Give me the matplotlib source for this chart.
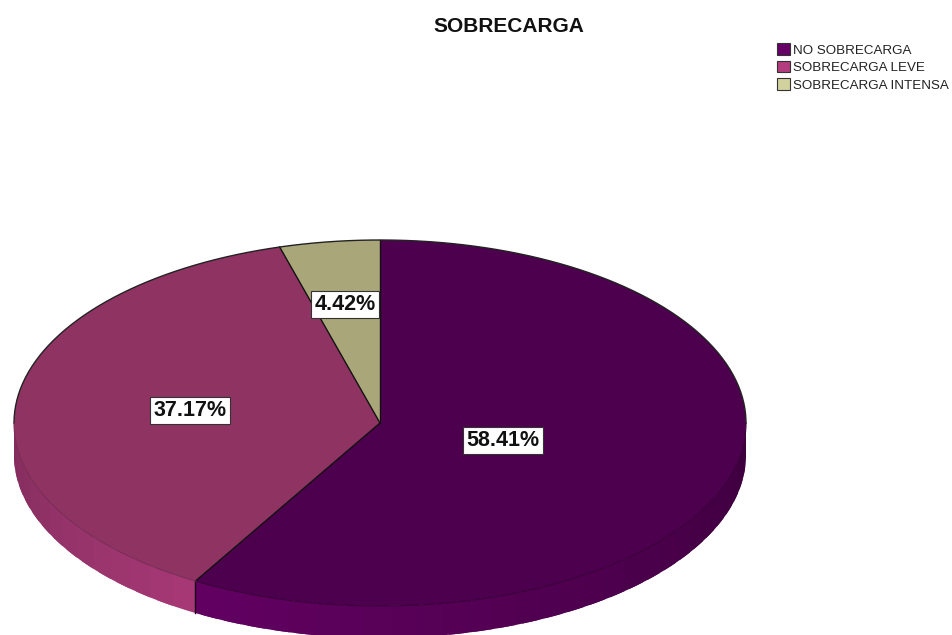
import numpy as np
import matplotlib
matplotlib.use('Agg')
import matplotlib.pyplot as plt
from matplotlib.colors import to_rgb
from matplotlib.patches import Patch

# data
categorias = ['NO SOBRECARGA', 'SOBRECARGA LEVE', 'SOBRECARGA INTENSA']
porcentajes = [58.41, 37.17, 4.42]
etiquetas = ['58.41%', '37.17%', '4.42%']
etiqueta_px = [(503, 438), (190, 408), (345, 302)]
colores_cara = ['#4d004d', '#8f3363', '#a9a77a']
colores_leyenda = ['#660066', '#b33d7f', '#d2d29e']

W, H = 952, 635
CX, CY, RX, RY = 380, 423, 366, 183
GROSOR = 32 / RY

plt.rcParams['font.family'] = ['Liberation Sans', 'DejaVu Sans']

fig = plt.figure(figsize=(W / 100, H / 100), dpi=100, facecolor='white')
ax = fig.add_axes([0, 0, 1, 1])


def punto(ang):
    # angulo en grados, horario desde las 12
    r = np.radians(ang)
    return np.sin(r), np.cos(r)


def brillo(ang, i):
    if i == 0:
        return np.interp(ang, [90, 210], [0.60, 0.96])
    return np.interp(ang, [210, 270], [0.93, 0.72])


limites = np.concatenate([[0], np.cumsum(porcentajes) / sum(porcentajes) * 360])

# pared lateral, por tramos que se solapan para que no se vean las juntas
for i in range(len(porcentajes)):
    a0, a1 = max(limites[i], 90), min(limites[i + 1], 270)
    if a1 <= a0:
        continue
    cortes = np.linspace(a0, a1, max(2, int((a1 - a0) / 4)) + 1)
    for t0, t1 in zip(cortes[:-1], cortes[1:]):
        x, y = punto(np.linspace(t0, min(t1 + 3, a1), 16))
        col = np.array(to_rgb(colores_leyenda[i])) * brillo((t0 + t1) / 2, i)
        ax.fill(np.r_[x, x[::-1]], np.r_[y, y[::-1] - GROSOR], facecolor=col, edgecolor='none')

# separacion en la pared
x, y = punto(limites[1])
ax.plot([x, x], [y, y - GROSOR], color='#1a0018', lw=1)

# cara superior
ax.pie(porcentajes, colors=colores_cara, startangle=90, counterclock=False, radius=1)
ax.set_aspect('auto')
ax.set_xlim(-CX / RX, (W - CX) / RX)
ax.set_ylim((CY - H) / RY, CY / RY)
ax.axis('off')

# bordes
for a in limites[:-1]:
    x, y = punto(a)
    ax.plot([0, x], [0, y], color='#111111', lw=1)
x, y = punto(np.linspace(270, 450, 200))
ax.plot(x, y, color='#222222', lw=1)
x, y = punto(np.linspace(90, 210, 100))
ax.plot(x, y, color='#3a003a', lw=0.8)
x, y = punto(np.linspace(limites[1], 270, 60))
ax.plot(x, y, color='#7a2b56', lw=0.8)

# etiquetas
for txt, (px, py) in zip(etiquetas, etiqueta_px):
    fig.text(px / W, 1 - py / H, txt, ha='center', va='center_baseline', fontsize=15.5,
             fontweight='bold', color='#111111',
             bbox=dict(boxstyle='square,pad=0.14', fc='white', ec='#333333', lw=0.8))

fig.text(509 / W, 1 - 25 / H, 'SOBRECARGA', ha='center', va='center_baseline', fontsize=15,
         fontweight='bold', color='#111111')

handles = [Patch(facecolor=c, edgecolor='#333333', lw=0.8) for c in colores_leyenda]
fig.legend(handles, categorias, loc='upper left', bbox_to_anchor=(777 / W, 1 - 43 / H),
           frameon=False, fontsize=9.6, labelcolor='#222222', handlelength=1.0,
           handleheight=1.0, handletextpad=0.2, labelspacing=0.3,
           borderpad=0, borderaxespad=0)

fig.savefig('out.png', dpi=100)
